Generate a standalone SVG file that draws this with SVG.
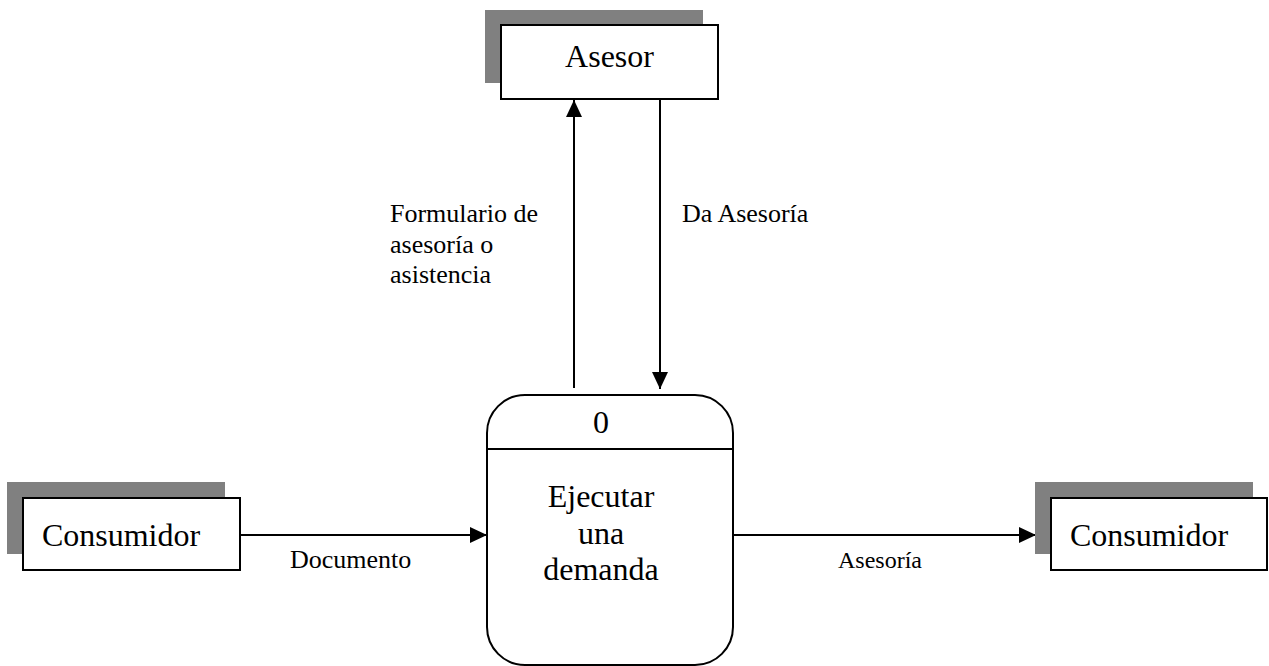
<svg xmlns="http://www.w3.org/2000/svg" width="1269" height="666" viewBox="0 0 1269 666">
<style>
.shadow{fill:#808080;stroke:none}
.box{fill:#fff;stroke:#000;stroke-width:2}
.t{font-family:"Liberation Serif","Times New Roman",serif;fill:#000}
.big{font-size:32px}
.lbl{font-size:26px}
.ln{stroke:#000;stroke-width:2;fill:none}
</style>
<defs>
<marker id="arr" markerUnits="userSpaceOnUse" markerWidth="17" markerHeight="16" refX="17" refY="8" orient="auto">
<path d="M0,0 L17,8 L0,16 z" fill="#000"/>
</marker>
</defs>
<rect width="1269" height="666" fill="#fff"/>
<g id="connectors">
<line class="ln" x1="574" y1="388" x2="574" y2="100" marker-end="url(#arr)"/>
<line class="ln" x1="660" y1="99" x2="660" y2="389" marker-end="url(#arr)"/>
<line class="ln" x1="240" y1="535" x2="487" y2="535" marker-end="url(#arr)"/>
<line class="ln" x1="733" y1="535" x2="1036" y2="535" marker-end="url(#arr)"/>
<text class="t lbl" x="390" y="222">Formulario de</text>
<text class="t lbl" x="390" y="253">asesoría o</text>
<text class="t lbl" x="390" y="283">asistencia</text>
<text class="t lbl" x="682" y="222">Da Asesoría</text>
<text class="t lbl" x="290" y="568">Documento</text>
<text class="t" font-size="24" x="838" y="568">Asesoría</text>
</g>
<g id="asesor">
<rect class="shadow" x="485" y="10" width="218" height="73"/>
<rect class="box" x="501" y="25" width="217" height="74"/>
<text class="t big" x="609.5" y="67" text-anchor="middle">Asesor</text>
</g>
<g id="consumidor-left">
<rect class="shadow" x="7" y="482" width="218" height="72"/>
<rect class="box" x="23" y="498" width="217" height="72"/>
<text class="t big" x="121" y="546" text-anchor="middle">Consumidor</text>
</g>
<g id="consumidor-right">
<rect class="shadow" x="1035" y="482" width="218" height="72"/>
<rect class="box" x="1051" y="498" width="216" height="72"/>
<text class="t big" x="1149" y="546" text-anchor="middle">Consumidor</text>
</g>
<g id="process">
<rect class="box" x="487" y="395" width="246" height="270" rx="38" ry="38"/>
<line class="ln" x1="487" y1="449" x2="733" y2="449"/>
<text class="t big" x="601" y="433" text-anchor="middle">0</text>
<text class="t big" x="601" y="507" text-anchor="middle">Ejecutar</text>
<text class="t big" x="601" y="544" text-anchor="middle">una</text>
<text class="t big" x="601" y="580" text-anchor="middle">demanda</text>
</g>
</svg>
